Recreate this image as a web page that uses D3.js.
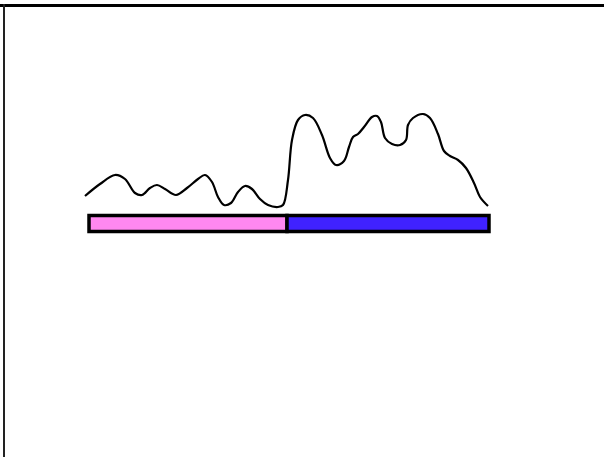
<!DOCTYPE html>
<html>
<head>
<meta charset="utf-8">
<script src="https://cdn.jsdelivr.net/npm/d3@7"></script>
<style>
body { margin: 0; background: #fff; }
</style>
</head>
<body>
<script>
// kurvans data (position, täthet)
var positions = [0, 15, 30, 40, 50, 57, 65, 72, 80, 91, 102, 113, 120, 127, 133, 139, 146, 153, 160, 167, 175, 183, 193,
    198, 203, 207, 213, 220, 228, 237, 245, 251, 259, 264, 268, 273, 279, 287, 292, 296, 300, 307, 315, 321, 323, 328,
    338, 345, 353, 359, 365, 373, 381, 389, 395, 403];
var density = [20, 32, 41, 37, 23, 21, 28, 31, 27, 21, 28, 37, 41, 34, 19, 11, 13, 24, 30, 27, 17, 11, 9,
    11, 36, 76, 96, 101, 98, 81, 58, 51, 55, 69, 79, 82, 89, 99, 100, 94, 78, 72, 71, 76, 91, 98,
    102, 98, 82, 65, 60, 56, 48, 33, 19, 10];

// segment under kurvan
var segStart = [4, 202];
var segEnd = [202, 404];
var segColors = ['#ff88f0', '#4022ff'];

var width = 604, height = 457;

var svg = d3.select('body').append('svg')
    .attr('width', width)
    .attr('height', height);

// ram (bara övre och vänstra kanten syns)
svg.append('line')
    .attr('x1', 0).attr('x2', width)
    .attr('y1', 5.5).attr('y2', 5.5)
    .attr('stroke', '#000')
    .attr('stroke-width', 3.2);
svg.append('line')
    .attr('x1', 4).attr('x2', 4)
    .attr('y1', 4).attr('y2', height)
    .attr('stroke', '#222')
    .attr('stroke-width', 2);

var xScale = d3.scaleLinear()
    .domain([0, 403])
    .range([85, 488]);

var yScale = d3.scaleLinear()
    .domain([0, 100])
    .range([216, 116]);

var line = d3.line()
    .x(function(d, i) { return xScale(positions[i]); })
    .y(function(d) { return yScale(d); })
    .curve(d3.curveCatmullRom.alpha(0.5));

svg.append('path')
    .datum(density)
    .attr('d', line)
    .attr('fill', 'none')
    .attr('stroke', '#000')
    .attr('stroke-width', 2.2);

// färgade staplar
svg.selectAll('.seg').data(segStart)
    .enter().append('rect')
    .attr('class', 'seg')
    .attr('x', function(d) { return xScale(d); })
    .attr('y', 215.5)
    .attr('width', function(d, i) { return xScale(segEnd[i]) - xScale(d); })
    .attr('height', 16)
    .attr('fill', function(d, i) { return segColors[i]; })
    .attr('stroke', '#000')
    .attr('stroke-width', 3.5);
</script>
</body>
</html>
